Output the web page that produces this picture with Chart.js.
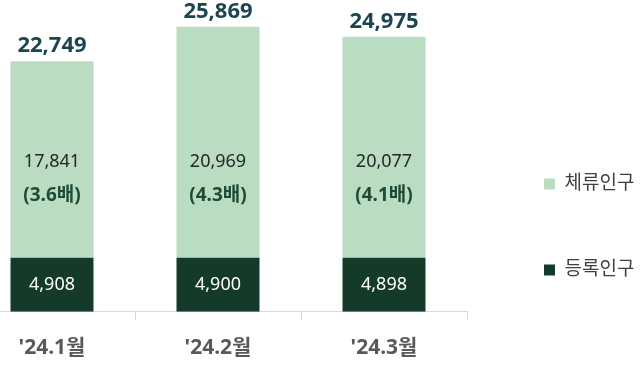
<!DOCTYPE html>
<html lang="ko">
<head>
<meta charset="utf-8">
<title>등록인구 / 체류인구</title>
<script src="https://cdn.jsdelivr.net/npm/chart.js@4.4.1/dist/chart.umd.min.js"></script>
<style>
    html, body { margin: 0; padding: 0; background: #ffffff; overflow: hidden; }
    #wrap { position: relative; width: 644px; height: 366px; overflow: hidden; }
    #popChart { position: absolute; left: -31px; top: 0; }
</style>
</head>
<body>
<div id="wrap">
    <canvas id="popChart" width="668" height="377"></canvas>
</div>
<script>
/* 월별 등록인구 / 체류인구 */
const months = ["'24.1월", "'24.2월", "'24.3월"];
const registered = [4908, 4900, 4898];      // 등록인구
const staying = [17841, 20969, 20077];      // 체류인구
const ratioLabels = ['3.6', '4.3', '4.1'];  // 체류/등록 배수

const yMax = 28300;
const stayValueLevel = 13650;   // 체류인구 수치 위치
const stayRatioLevel = 10550;   // 배수 위치

const FONT = "'Noto Sans', 'Noto Sans CJK KR', sans-serif";
const LIGHT = '#badcc0';
const DARK = '#143a2a';

Chart.defaults.font.family = FONT;

function fmt(n) {
    return n.toLocaleString('en-US');
}

// 막대 안/위 수치 표시
const barLabels = {
    id: 'barLabels',
    afterDatasetsDraw(chart) {
        const ctx = chart.ctx;
        const yScale = chart.scales.y;
        const regMeta = chart.getDatasetMeta(0);
        const stayMeta = chart.getDatasetMeta(1);

        ctx.save();
        ctx.textAlign = 'center';
        ctx.textBaseline = 'middle';
        months.forEach(function(m, i) {
            const reg = regMeta.data[i];
            const stay = stayMeta.data[i];

            ctx.font = '18px ' + FONT;
            ctx.fillStyle = '#ffffff';
            ctx.fillText(fmt(registered[i]), reg.x, (reg.y + reg.base) / 2);

            ctx.fillStyle = '#262626';
            ctx.fillText(fmt(staying[i]), stay.x, yScale.getPixelForValue(stayValueLevel));

            ctx.font = 'bold 19px ' + FONT;
            ctx.fillStyle = '#1f4a36';
            ctx.fillText('(' + ratioLabels[i] + '배)', stay.x, yScale.getPixelForValue(stayRatioLevel));

            ctx.font = 'bold 22px ' + FONT;
            ctx.fillStyle = '#1b4651';
            ctx.fillText(fmt(registered[i] + staying[i]), stay.x, stay.y - 15);
        });
        ctx.restore();
    }
};

document.addEventListener('DOMContentLoaded', function() {
    const ctx = document.getElementById('popChart');
    new Chart(ctx, {
        type: 'bar',
        data: {
            labels: months,
            datasets: [{
                label: '등록인구',
                data: registered,
                backgroundColor: DARK,
                borderWidth: 0
            }, {
                label: '체류인구',
                data: staying,
                backgroundColor: LIGHT,
                borderWidth: 0
            }]
        },
        options: {
            responsive: false,
            animation: false,
            devicePixelRatio: 1,
            categoryPercentage: 1,
            barPercentage: 0.5,
            layout: { padding: 0 },
            plugins: {
                tooltip: { enabled: false },
                legend: {
                    position: 'right',
                    reverse: true,
                    maxWidth: 160,
                    // empty title only pushes the items down
                    title: {
                        display: true,
                        text: '',
                        font: { size: 10, lineHeight: 1 },
                        padding: { top: 67, bottom: 0 }
                    },
                    labels: {
                        boxWidth: 11,
                        boxHeight: 11,
                        padding: 67,
                        color: '#404040',
                        font: { size: 19 }
                    }
                }
            },
            scales: {
                x: {
                    stacked: true,
                    grid: {
                        display: true,
                        drawOnChartArea: false,
                        drawTicks: true,
                        tickLength: 8,
                        color: '#d9d9d9'
                    },
                    border: { display: true, color: '#d9d9d9', width: 1 },
                    ticks: {
                        padding: 16,
                        color: '#595959',
                        font: { size: 21, weight: 'bold' }
                    }
                },
                y: {
                    stacked: true,
                    position: 'right',
                    min: 0,
                    max: yMax,
                    grid: { display: false, drawTicks: true, tickLength: 10 },
                    border: { display: false },
                    ticks: { display: false }
                }
            }
        },
        plugins: [barLabels]
    });
});
</script>
</body>
</html>
